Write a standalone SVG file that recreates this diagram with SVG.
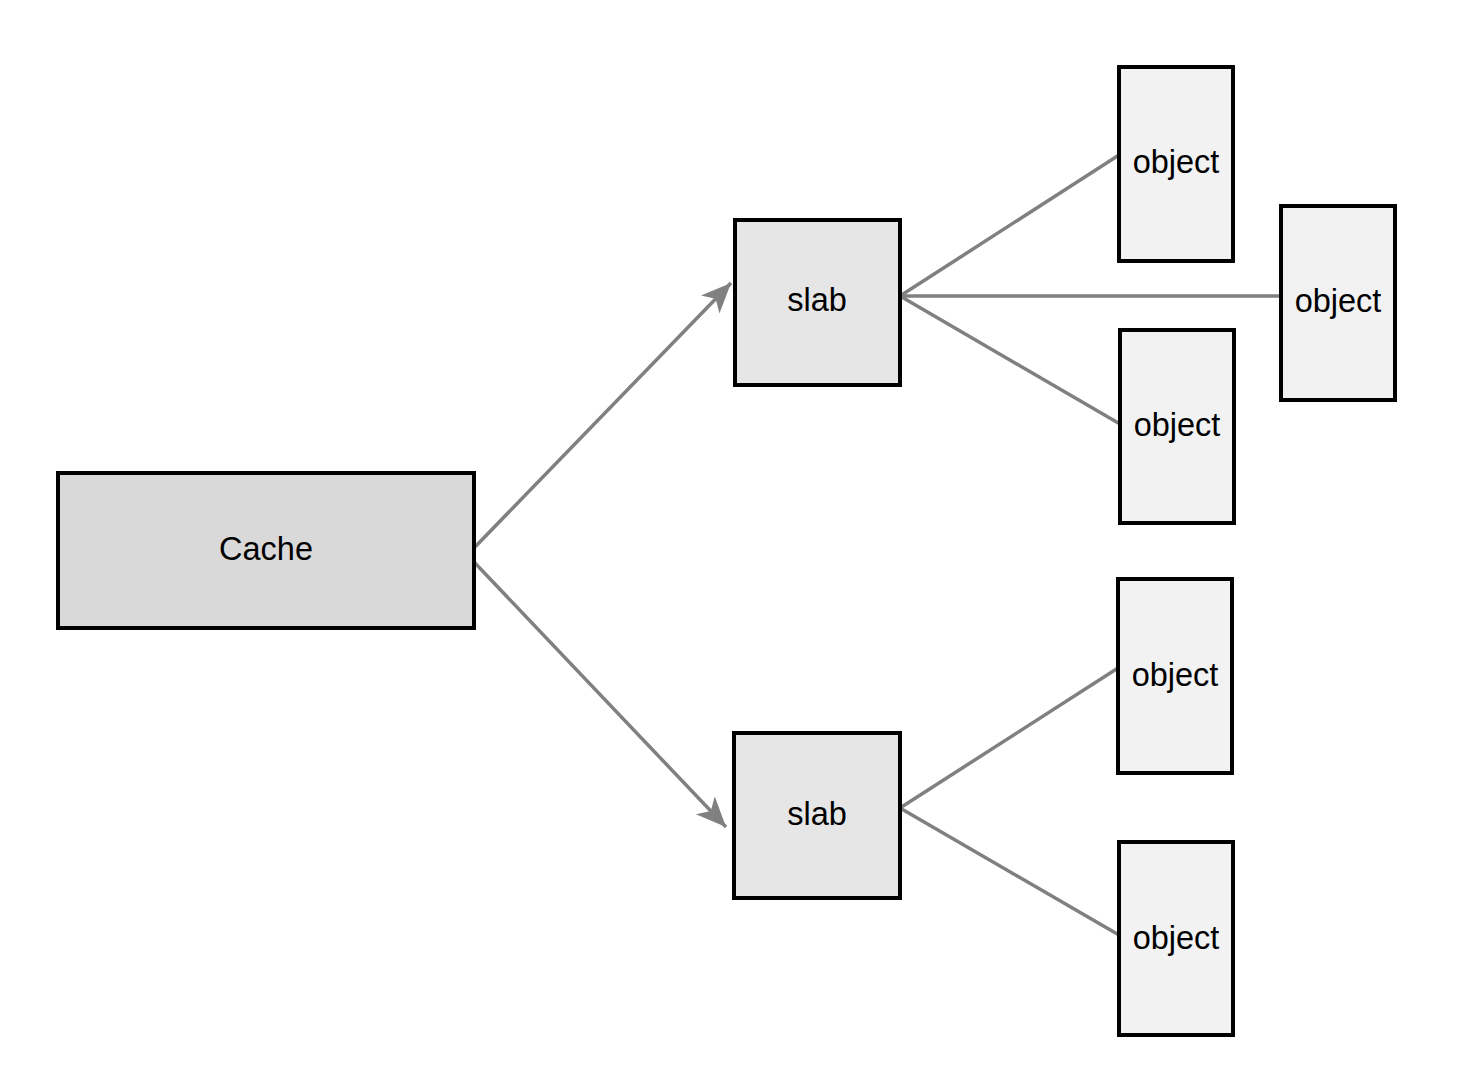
<svg xmlns="http://www.w3.org/2000/svg" width="1462" height="1074" viewBox="0 0 1462 1074">
<style>
.n{stroke:#000;stroke-width:4}
.c{fill:#d9d9d9}.s{fill:#e6e6e6}.o{fill:#f2f2f2}
text{font-family:"Liberation Sans",Arial,sans-serif;font-size:32.5px;fill:#000;text-anchor:middle;dominant-baseline:central}
.e{stroke:#808080;stroke-width:3.5;fill:none}
</style>
<defs>
<marker id="arr" markerUnits="userSpaceOnUse" markerWidth="32" markerHeight="28" refX="30" refY="13" orient="auto" viewBox="0 0 32 28">
<path d="M0,0 L30,13 L0,26 L8,13 z" fill="#808080"/>
</marker>
</defs>
<rect width="1462" height="1074" fill="#fff"/>
<g id="connectors">
<line class="e" x1="474" y1="548" x2="731" y2="283" marker-end="url(#arr)"/>
<line class="e" x1="474" y1="562" x2="726" y2="827" marker-end="url(#arr)"/>
<line class="e" x1="900" y1="296" x2="1119" y2="155"/>
<line class="e" x1="900" y1="296" x2="1281" y2="296"/>
<line class="e" x1="900" y1="296" x2="1120" y2="424"/>
<line class="e" x1="900" y1="808" x2="1118" y2="668"/>
<line class="e" x1="900" y1="808" x2="1119" y2="935"/>
</g>
<g id="cache"><rect class="n c" x="58" y="473" width="416" height="155"/><text x="266" y="549">Cache</text></g>
<g id="slab1"><rect class="n s" x="735" y="220" width="165" height="165"/><text x="817" y="300">slab</text></g>
<g id="slab2"><rect class="n s" x="734" y="733" width="166" height="165"/><text x="817" y="814">slab</text></g>
<g id="obj1"><rect class="n o" x="1119" y="67" width="114" height="194"/><text x="1176" y="162">object</text></g>
<g id="obj2"><rect class="n o" x="1281" y="206" width="114" height="194"/><text x="1338" y="301">object</text></g>
<g id="obj3"><rect class="n o" x="1120" y="330" width="114" height="193"/><text x="1177" y="425">object</text></g>
<g id="obj4"><rect class="n o" x="1118" y="579" width="114" height="194"/><text x="1175" y="675">object</text></g>
<g id="obj5"><rect class="n o" x="1119" y="842" width="114" height="193"/><text x="1176" y="938">object</text></g>
</svg>
